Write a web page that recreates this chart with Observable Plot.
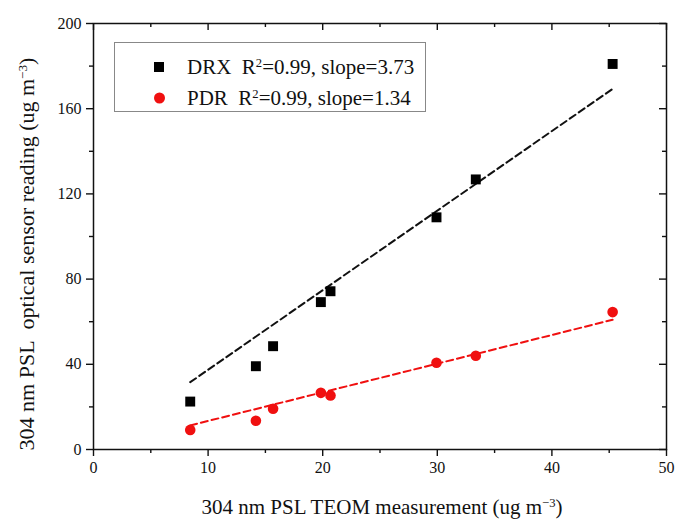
<!DOCTYPE html>
<html>
<head>
<meta charset="utf-8">
<script src="https://cdn.jsdelivr.net/npm/d3@7"></script>
<script src="https://cdn.jsdelivr.net/npm/@observablehq/plot@0.6"></script>
<style>
  body { margin: 0; background: #fff; }
  #wrap { position: relative; width: 681px; height: 523px; font-family: "Liberation Serif", "Times New Roman", serif; color: #111; }
  .sup { position: relative; top: -0.55em; font-size: 0.6em; }
  #ytitle { position: absolute; left: 27px; top: 254px; transform: translate(-50%, -50%) rotate(-90deg); white-space: nowrap; font-size: 22px; }
  #xtitle { position: absolute; left: 382px; top: 507px; transform: translate(-50%, -50%); white-space: nowrap; font-size: 21px; }
  #legend { position: absolute; left: 114px; top: 42px; width: 312px; height: 70px; border: 1px solid #888; box-sizing: border-box; background: #fff; }
  .row { position: absolute; left: 0; white-space: nowrap; font-size: 21px; line-height: 1; }
  .lab { position: absolute; left: 72px; top: 0; transform: translateY(-50%); }
  .sq { position: absolute; left: 39px; width: 10px; height: 10px; background: #000; transform: translateY(-50%); }
  .ci { position: absolute; left: 39px; width: 11px; height: 11px; border-radius: 50%; background: #f01010; transform: translateY(-50%); }
</style>
</head>
<body>
<div id="wrap">
  <div id="chart"></div>
  <div id="legend">
    <div class="row" style="top:24px"><div class="sq" style="top:0"></div><div class="lab">DRX&nbsp; R<span class="sup">2</span>=0.99, slope=3.73</div></div>
    <div class="row" style="top:55px"><div class="ci" style="top:0"></div><div class="lab">PDR&nbsp; R<span class="sup">2</span>=0.99, slope=1.34</div></div>
  </div>
  <div id="ytitle">304 nm PSL&nbsp; optical sensor reading (ug m<span class="sup">−3</span>)</div>
  <div id="xtitle">304 nm PSL TEOM measurement (ug m<span class="sup">−3</span>)</div>
</div>
<script>
// Data
const teom = [8.44, 14.17, 15.67, 19.84, 20.68, 29.93, 33.36, 45.3];
const drxValues = [22.5, 39.1, 48.5, 69.2, 74.3, 109, 126.8, 181];
const pdrValues = [9.2, 13.5, 19.1, 26.6, 25.4, 40.7, 44.0, 64.5];
const fitX = [8.44, 45.3];
const drxFitY = [31.6, 169.3];
const pdrFitY = [11.3, 60.9];
const xMajor = [0, 10, 20, 30, 40, 50];
const xMinor = [5, 15, 25, 35, 45];
const yMajor = [0, 40, 80, 120, 160, 200];
const yMinor = [20, 60, 100, 140, 180];

const drx = teom.map((x, i) => ({x, y: drxValues[i]}));
const pdr = teom.map((x, i) => ({x, y: pdrValues[i]}));
const drxFit = fitX.map((x, i) => ({x, y: drxFitY[i]}));
const pdrFit = fitX.map((x, i) => ({x, y: pdrFitY[i]}));

const W = 681, H = 523, mL = 93, mR = 15, mT = 23, mB = 74;
const plotW = W - mL - mR, plotH = H - mT - mB;

const chart = Plot.plot({
  width: W, height: H,
  marginLeft: mL, marginRight: mR, marginTop: mT, marginBottom: mB,
  x: {domain: [0, 50]},
  y: {domain: [0, 200]},
  style: {fontFamily: "Liberation Serif, serif", fontSize: "16px", color: "#111", background: "transparent"},
  marks: [
    Plot.axisX({ticks: xMajor, tickSize: 7, tickPadding: 5, label: null, strokeWidth: 1.4, fontSize: 16}),
    Plot.axisX({ticks: xMinor, tickSize: 4, tickFormat: () => "", label: null, strokeWidth: 1.4}),
    Plot.axisY({ticks: yMajor, tickSize: 7, tickPadding: 5, label: null, strokeWidth: 1.4, fontSize: 16}),
    Plot.axisY({ticks: yMinor, tickSize: 4, tickFormat: () => "", label: null, strokeWidth: 1.4}),
    Plot.ruleX(xMajor, {x: d => d, insetBottom: plotH - 7, strokeWidth: 1.4}),
    Plot.ruleX(xMinor, {x: d => d, insetBottom: plotH - 4, strokeWidth: 1.4}),
    Plot.ruleY(yMajor, {y: d => d, insetLeft: plotW - 7, strokeWidth: 1.4}),
    Plot.ruleY(yMinor, {y: d => d, insetLeft: plotW - 4, strokeWidth: 1.4}),
    Plot.frame({stroke: "#111", strokeWidth: 1.5}),
    Plot.line(drxFit, {x: "x", y: "y", stroke: "#111", strokeWidth: 2, strokeDasharray: "7,4"}),
    Plot.line(pdrFit, {x: "x", y: "y", stroke: "#f01010", strokeWidth: 2, strokeDasharray: "7,4"}),
    Plot.dot(drx, {x: "x", y: "y", symbol: "square", r: 5.6, fill: "#000", stroke: null}),
    Plot.dot(pdr, {x: "x", y: "y", symbol: "circle", r: 5.3, fill: "#f01010", stroke: null})
  ]
});
document.getElementById("chart").appendChild(chart);
</script>
</body>
</html>
